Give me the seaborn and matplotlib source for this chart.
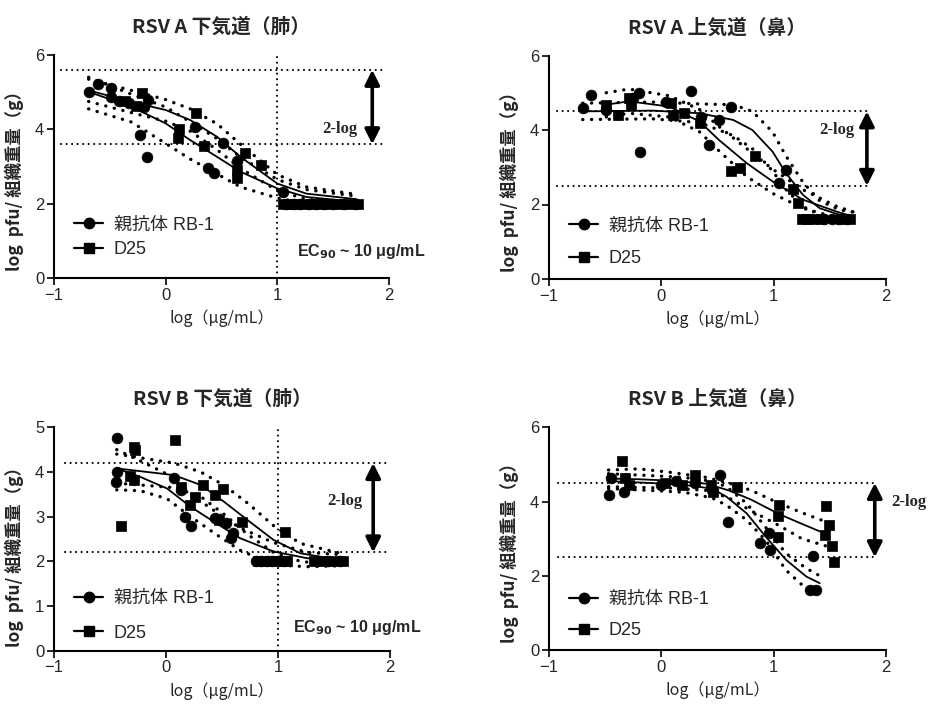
import matplotlib
matplotlib.use("Agg")
import matplotlib.pyplot as plt
from matplotlib.lines import Line2D
import seaborn as sns
import numpy as np

sns.set_style("ticks")
plt.rcParams['font.family'] = ['Liberation Sans', 'Noto Sans CJK JP', 'DejaVu Sans']

CJK = ['Noto Sans CJK JP', 'DejaVu Sans']

titles = ["RSV A 下気道（肺）", "RSV A 上気道（鼻）", "RSV B 下気道（肺）", "RSV B 上気道（鼻）"]
series_names = ["親抗体 RB-1", "D25"]
ylabel_text = "log  pfu/ 組織重量（g）"
xlabel_text = "log（μg/mL）"
ec90_text = r"EC$_{\mathbf{90}}$ ~ 10 μg/mL"

# reference (2-log) levels per panel
ref_levels = [(5.6, 3.6), (4.5, 2.5), (4.2, 2.2), (4.5, 2.5)]
y_max = [6, 6, 5, 6]
y_ticks = [[0, 2, 4, 6], [0, 2, 4, 6], [0, 1, 2, 3, 4, 5], [0, 2, 4, 6]]
x_ticks = [-1, 0, 1, 2]

# ---------------- Panel 1: RSV A lower airway ----------------
tl_rb1_x = [-0.69, -0.61, -0.49, -0.49, -0.42, -0.33, -0.23, -0.17, -0.16, -0.19, 0.26, 0.51, 0.38, 0.43, 0.64,
            1.05, 1.08, 1.15, 1.2, 1.28, 1.35, 1.42, 1.5, 1.6, 1.7]
tl_rb1_y = [5.01, 5.21, 5.10, 4.88, 4.75, 4.70, 3.84, 3.26, 4.79, 4.60, 4.07, 3.64, 2.95, 2.83, 3.14,
            2.32, 2.0, 2.0, 2.0, 2.0, 2.0, 2.0, 2.0, 2.0, 2.0]
tl_d25_x = [-0.21, -0.36, -0.27, 0.27, 0.12, 0.11, 0.34, 0.71, 0.85, 0.64, 0.64,
            1.05, 1.1, 1.15, 1.25, 1.3, 1.4, 1.48, 1.55, 1.65, 1.72]
tl_d25_y = [4.99, 4.76, 4.63, 4.45, 4.02, 3.78, 3.55, 3.35, 3.04, 2.90, 2.68,
            2.0, 2.0, 2.0, 2.0, 2.0, 2.0, 2.0, 2.0, 2.0, 2.0]
tl_fit_x = [-0.69, -0.31, 0.0, 0.22, 0.46, 0.67, 1.0, 1.26, 1.71]
tl_rb1_fit = [5.01, 4.61, 4.16, 3.71, 3.26, 2.86, 2.41, 2.18, 2.05]
tl_rb1_lo = [4.55, 4.2, 3.62, 3.2, 2.8, 2.45, 2.15, 2.0, 1.92]
tl_rb1_hi = [5.4, 4.95, 4.6, 4.2, 3.75, 3.25, 2.65, 2.38, 2.2]
tl_d25_fit = [5.05, 4.74, 4.52, 4.25, 3.8, 3.26, 2.54, 2.27, 2.12]
tl_d25_lo = [4.75, 4.45, 4.22, 3.95, 3.45, 2.95, 2.35, 2.12, 2.0]
tl_d25_hi = [5.35, 5.05, 4.8, 4.55, 4.15, 3.6, 2.78, 2.45, 2.25]

# ---------------- Panel 2: RSV A upper airway ----------------
tr_rb1_x = [-0.70, -0.63, -0.49, -0.19, -0.20, -0.25, 0.26, 0.04, 0.51, 0.42, 0.62, 0.35, 1.11, 1.05,
            1.45, 1.52, 1.58, 1.65]
tr_rb1_y = [4.59, 4.95, 4.54, 3.42, 5.0, 4.85, 5.04, 4.76, 4.26, 3.60, 4.63, 4.36, 2.93, 2.57,
            1.6, 1.6, 1.6, 1.6]
tr_d25_x = [-0.49, -0.39, -0.29, -0.27, 0.09, 0.10, 0.20, 0.34, 0.62, 0.70, 0.83, 1.17, 1.22,
            1.25, 1.3, 1.35, 1.42, 1.6, 1.68]
tr_d25_y = [4.68, 4.41, 4.86, 4.68, 4.72, 4.41, 4.45, 4.18, 2.89, 2.97, 3.29, 2.41, 2.03,
            1.6, 1.6, 1.6, 1.6, 1.6, 1.6]
tr_rb1_fx = [-0.70, -0.08, 0.34, 0.64, 0.81, 0.99, 1.11, 1.26, 1.41, 1.59, 1.70]
tr_rb1_fit = [4.50, 4.52, 4.45, 4.27, 4.0, 3.42, 2.84, 2.26, 1.90, 1.72, 1.68]
tr_rb1_lo = [4.28, 4.3, 4.2, 3.85, 3.5, 2.9, 2.4, 1.95, 1.72, 1.6, 1.58]
tr_rb1_hi = [4.72, 4.75, 4.7, 4.68, 4.5, 3.95, 3.3, 2.6, 2.1, 1.85, 1.8]
tr_d25_fx = [-0.49, -0.29, 0.07, 0.34, 0.51, 0.76, 0.99, 1.26, 1.56, 1.71]
tr_d25_fit = [4.68, 4.77, 4.63, 4.23, 3.74, 3.11, 2.62, 2.13, 1.81, 1.67]
tr_d25_lo = [4.35, 4.45, 4.35, 3.95, 3.45, 2.75, 2.3, 1.9, 1.65, 1.55]
tr_d25_hi = [5.0, 5.1, 4.92, 4.55, 4.1, 3.5, 2.95, 2.4, 1.95, 1.8]

# ---------------- Panel 3: RSV B lower airway ----------------
bl_rb1_x = [-0.44, -0.44, -0.45, 0.07, 0.13, 0.17, 0.22, 0.44, 0.54, 0.58, 0.60,
            0.8, 0.85, 0.9, 0.95, 1.0, 1.05, 1.35, 1.45, 1.55]
bl_rb1_y = [4.75, 4.0, 3.78, 3.86, 3.6, 3.0, 2.78, 2.96, 2.85, 2.52, 2.63,
            2.0, 2.0, 2.0, 2.0, 2.0, 2.0, 2.0, 2.0, 2.0]
bl_d25_x = [-0.40, -0.29, -0.28, -0.32, -0.29, 0.08, 0.13, 0.26, 0.33, 0.44, 0.51, 0.47, 0.68, 1.06, 0.21,
            0.82, 0.9, 1.0, 1.08, 1.32, 1.4, 1.48, 1.58]
bl_d25_y = [2.78, 4.56, 4.49, 3.9, 3.82, 4.71, 3.67, 3.44, 3.70, 3.48, 3.63, 2.92, 2.89, 2.66, 3.26,
            2.0, 2.0, 2.0, 2.0, 2.0, 2.0, 2.0, 2.0]
bl_rb1_fx = [-0.44, -0.23, 0.01, 0.22, 0.45, 0.66, 0.96, 1.26, 1.56]
bl_rb1_fit = [4.08, 3.89, 3.63, 3.22, 2.85, 2.52, 2.22, 2.07, 2.03]
bl_rb1_lo = [3.6, 3.58, 3.4, 3.0, 2.6, 2.25, 1.92, 1.88, 1.9]
bl_rb1_hi = [4.5, 4.25, 3.95, 3.5, 3.1, 2.75, 2.42, 2.2, 2.15]
bl_d25_fx = [-0.44, 0.07, 0.31, 0.52, 0.73, 0.96, 1.20, 1.56]
bl_d25_fit = [4.08, 3.93, 3.71, 3.33, 2.92, 2.48, 2.18, 2.03]
bl_d25_lo = [3.75, 3.65, 3.45, 3.05, 2.6, 2.2, 2.0, 1.9]
bl_d25_hi = [4.4, 4.2, 4.0, 3.7, 3.3, 2.8, 2.4, 2.18]

# ---------------- Panel 4: RSV B upper airway ----------------
br_rb1_x = [-0.47, -0.45, -0.33, 0.0, 0.13, 0.52, 0.59, 0.88, 0.96, 0.97, 1.35, 1.32, 1.38, 0.3, 0.45]
br_rb1_y = [4.18, 4.63, 4.27, 4.45, 4.54, 4.72, 3.46, 2.88, 3.14, 2.69, 2.54, 1.62, 1.62, 4.5, 4.3]
br_d25_x = [-0.35, -0.32, -0.29, 0.03, 0.18, 0.30, 0.44, 0.46, 0.67, 1.05, 1.04, 1.04,
            1.47, 1.49, 1.46, 1.52, 1.54]
br_d25_y = [5.08, 4.63, 4.45, 4.5, 4.45, 4.72, 4.45, 4.26, 4.38, 3.91, 3.6, 3.04,
            3.88, 3.37, 3.1, 2.79, 2.38]
br_rb1_fx = [-0.47, -0.1, 0.2, 0.45, 0.58, 0.76, 0.93, 1.11, 1.29, 1.41]
br_rb1_fit = [4.55, 4.5, 4.45, 4.35, 4.13, 3.68, 3.05, 2.43, 1.98, 1.8]
br_rb1_lo = [4.35, 4.3, 4.25, 4.1, 3.9, 3.5, 2.95, 2.15, 1.65, 1.55]
br_rb1_hi = [4.75, 4.7, 4.65, 4.55, 4.4, 3.95, 3.3, 2.6, 2.2, 2.0]
br_d25_fx = [-0.47, -0.2, 0.1, 0.4, 0.6, 0.8, 1.05, 1.25, 1.47]
br_d25_fit = [4.62, 4.6, 4.56, 4.48, 4.3, 4.05, 3.66, 3.4, 3.12]
br_d25_lo = [4.4, 4.38, 4.36, 4.3, 4.1, 3.75, 3.35, 3.0, 2.8]
br_d25_hi = [4.85, 4.88, 4.78, 4.65, 4.5, 4.3, 3.95, 3.7, 3.45]

panels = [
    dict(rb1=(tl_rb1_x, tl_rb1_y), d25=(tl_d25_x, tl_d25_y),
         rb1fit=(tl_fit_x, tl_rb1_fit, tl_rb1_lo, tl_rb1_hi),
         d25fit=(tl_fit_x, tl_d25_fit, tl_d25_lo, tl_d25_hi)),
    dict(rb1=(tr_rb1_x, tr_rb1_y), d25=(tr_d25_x, tr_d25_y),
         rb1fit=(tr_rb1_fx, tr_rb1_fit, tr_rb1_lo, tr_rb1_hi),
         d25fit=(tr_d25_fx, tr_d25_fit, tr_d25_lo, tr_d25_hi)),
    dict(rb1=(bl_rb1_x, bl_rb1_y), d25=(bl_d25_x, bl_d25_y),
         rb1fit=(bl_rb1_fx, bl_rb1_fit, bl_rb1_lo, bl_rb1_hi),
         d25fit=(bl_d25_fx, bl_d25_fit, bl_d25_lo, bl_d25_hi)),
    dict(rb1=(br_rb1_x, br_rb1_y), d25=(br_d25_x, br_d25_y),
         rb1fit=(br_rb1_fx, br_rb1_fit, br_rb1_lo, br_rb1_hi),
         d25fit=(br_d25_fx, br_d25_fit, br_d25_lo, br_d25_hi)),
]

fig = plt.figure(figsize=(9.3, 7.07), dpi=100)
rects = [
    (54 / 930, 1 - 278 / 707, 335 / 930, 223 / 707),
    (549 / 930, 1 - 279 / 707, 337 / 930, 223.5 / 707),
    (54 / 930, 1 - 650.7 / 707, 336 / 930, 223.4 / 707),
    (549 / 930, 1 - 650 / 707, 337 / 930, 222.7 / 707),
]
# layout details per panel
ref_x_span = [(-0.94, 1.96), (-0.93, 1.87), (-0.9, 1.97), (-0.92, 1.92)]
arrow_x = [1.85, 1.83, 1.85, 1.9]
twolog_pos = [(1.72, 4.0, 'right'), (1.72, 4.0, 'right'), (1.75, 3.36, 'right'), (2.05, 4.0, 'left')]
ec90_pos = [(1.18, 0.70), None, (1.13, 0.51), None]
legend_anchor = [(0.06, 0.275), (0.06, 0.275), (0.06, 0.27), (0.06, 0.265)]
legend_spacing = [0.4, 0.85, 0.95, 0.8]
ylabel_y = [0.455, 0.455, 0.44, 0.455]

band_style = dict(color='black', lw=2.4, linestyle=(0, (0.05, 2.6)), dash_capstyle='round')
ref_style = dict(color='black', lw=1.5, linestyle=(0, (0.05, 2.6)), dash_capstyle='round')

for i, (p, r) in enumerate(zip(panels, rects)):
    ax = fig.add_axes(r)
    # reference lines
    top, bot = ref_levels[i]
    x0, x1 = ref_x_span[i]
    for lvl in (top, bot):
        ax.plot([x0, x1], [lvl, lvl], **ref_style)
    if ec90_pos[i] is not None:
        ax.plot([1, 1], [0, y_max[i]], **ref_style)
    # fits and confidence bands
    for key in ("rb1fit", "d25fit"):
        fx, fy, flo, fhi = p[key]
        ax.plot(fx, flo, **band_style)
        ax.plot(fx, fhi, **band_style)
        sns.lineplot(x=fx, y=fy, ax=ax, color='black', lw=1.3, estimator=None, sort=False)
    # data
    sns.scatterplot(x=p["rb1"][0], y=p["rb1"][1], ax=ax, marker='o', s=60, color='black',
                    edgecolor='black', linewidth=0.5, zorder=5)
    sns.scatterplot(x=p["d25"][0], y=p["d25"][1], ax=ax, marker='s', s=62, color='black',
                    edgecolor='black', linewidth=0.5, zorder=5)
    # arrow
    ax.annotate('', xy=(arrow_x[i], top), xytext=(arrow_x[i], bot),
                arrowprops=dict(arrowstyle='<|-|>', lw=2.6, color='black', mutation_scale=22,
                                shrinkA=0, shrinkB=0), annotation_clip=False)
    tx, ty, tha = twolog_pos[i]
    ax.text(tx, ty, "2-log", ha=tha, va='center', fontsize=12, fontweight='bold',
            family=['Liberation Serif'], clip_on=False)
    if ec90_pos[i] is not None:
        ax.text(ec90_pos[i][0], ec90_pos[i][1], ec90_text, ha='left', va='center',
                fontsize=11.5, fontweight='bold')
    # axes
    ax.set_xlim(-1, 2)
    ax.set_ylim(0, y_max[i])
    ax.set_xticks(x_ticks)
    ax.set_yticks(y_ticks[i])
    ax.tick_params(axis='both', direction='out', length=5, width=1.4, labelsize=12, pad=2)
    for s in ('left', 'bottom'):
        ax.spines[s].set_linewidth(1.5)
        ax.spines[s].set_color('black')
    sns.despine(ax=ax)
    ax.set_title(titles[i], fontsize=14.2, fontweight='bold', family=CJK, pad=16)
    ax.set_ylabel(ylabel_text, fontsize=12.5, fontweight='bold', family=CJK)
    ax.yaxis.set_label_coords(-0.09, ylabel_y[i])
    ax.set_xlabel(xlabel_text, fontsize=11.5, family=CJK, labelpad=5)
    handles = [Line2D([], [], color='black', marker='o', markersize=7.5, lw=1.6),
               Line2D([], [], color='black', marker='s', markersize=7.5, lw=1.6)]
    ax.legend(handles, series_names, loc='upper left', bbox_to_anchor=legend_anchor[i],
              frameon=False, fontsize=13, handlelength=1.6, handletextpad=0.6,
              labelspacing=legend_spacing[i], borderaxespad=0, borderpad=0)

fig.savefig("out.png", dpi=100)
